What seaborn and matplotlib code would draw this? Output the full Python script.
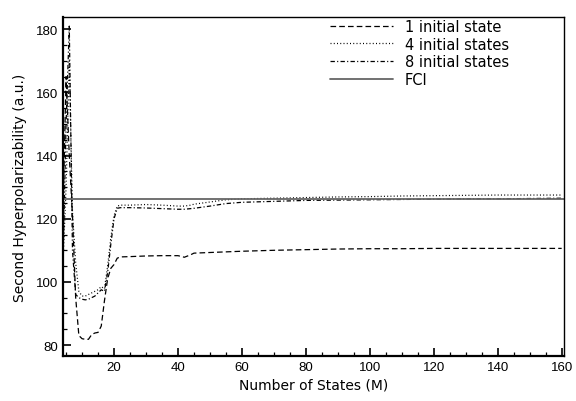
import matplotlib
matplotlib.use("Agg")
import matplotlib.pyplot as plt
import seaborn as sns
import pandas as pd
from matplotlib.ticker import MultipleLocator

# Number of states M and the second hyperpolarizability for each starting guess
m_values = [4, 5, 6, 7, 8, 9, 10, 11, 12, 13, 14, 15, 16, 17, 18, 19, 20, 21, 22,
            25, 30, 35, 40, 42, 44, 45, 50, 55, 60, 70, 80, 90, 100, 110, 120,
            130, 140, 150, 160]

gamma_1_state = [120, 165, 140, 121, 95, 83, 82, 81.8, 81.8, 83.3, 83.8, 84, 86,
                 94, 101, 104.3, 105.5, 107.5, 107.9,
                 108.0, 108.2, 108.3, 108.3, 107.8, 108.6, 109.1, 109.3, 109.5,
                 109.7, 110.0, 110.2, 110.4, 110.5, 110.5, 110.6,
                 110.6, 110.6, 110.6, 110.6]

gamma_4_states = [105, 130, 170, 122, 106, 97, 95.5, 95.5, 96, 96.5, 97, 97.5,
                  98.5, 97.8, 105, 114, 121, 124, 124.3,
                  124.3, 124.5, 124.3, 124.0, 124.0, 124.3, 124.6, 125.3, 126.0,
                  126.3, 126.5, 126.7, 126.9, 127.0, 127.2, 127.3,
                  127.4, 127.5, 127.5, 127.5]

gamma_8_states = [104, 150, 181, 110, 96, 95, 94.5, 94.3, 94.5, 95, 95.5, 96.5,
                  97.5, 97, 103, 112, 120, 123.3, 123.5,
                  123.5, 123.4, 123.2, 123.0, 123.0, 123.2, 123.3, 124.0, 124.8,
                  125.2, 125.5, 125.8, 125.9, 126.0, 126.1, 126.2,
                  126.3, 126.3, 126.4, 126.5]

gamma_fci = 126.4

series_labels = ["1 initial state", "4 initial states", "8 initial states", "FCI"]
x_ticks = [20, 40, 60, 80, 100, 120, 140, 160]
y_ticks = [80, 100, 120, 140, 160, 180]

sns.set_style("ticks")
plt.rcParams["font.family"] = ["DejaVu Sans"]
plt.rcParams["text.color"] = "black"
plt.rcParams["axes.labelcolor"] = "black"
plt.rcParams["xtick.color"] = "black"
plt.rcParams["ytick.color"] = "black"

fig = plt.figure(figsize=(5.76, 4.02), dpi=100)
ax = fig.add_axes([0.11, 0.111, 0.869, 0.8435])

df = pd.DataFrame({
    "M": m_values,
    "g1": gamma_1_state,
    "g4": gamma_4_states,
    "g8": gamma_8_states,
})

sns.lineplot(data=df, x="M", y="g1", ax=ax, color="black", linewidth=0.9,
             label=series_labels[0])
sns.lineplot(data=df, x="M", y="g4", ax=ax, color="black", linewidth=0.9,
             label=series_labels[1])
sns.lineplot(data=df, x="M", y="g8", ax=ax, color="black", linewidth=0.9,
             label=series_labels[2])
lines = ax.get_lines()
lines[0].set_dashes([4.5, 2.5])
lines[1].set_dashes([0.8, 1.8])
lines[2].set_dashes([3.5, 1.8, 0.9, 1.8])
ax.axhline(gamma_fci, color="#666666", linewidth=1.3, label=series_labels[3])

ax.set_xlim(4.15, 160.7)
ax.set_ylim(76.4, 183.8)
ax.set_xticks(x_ticks)
ax.set_yticks(y_ticks)
ax.xaxis.set_minor_locator(MultipleLocator(5))
ax.yaxis.set_minor_locator(MultipleLocator(5))
ax.tick_params(which="both", direction="in", top=False, right=False,
               labelsize=9.5, colors="black")
ax.tick_params(which="major", length=5.5, width=1.2)
ax.tick_params(which="minor", length=3, width=0.9)
for lab in ax.get_xticklabels() + ax.get_yticklabels():
    lab.set_family("Liberation Sans")

for side in ["left", "bottom"]:
    ax.spines[side].set_linewidth(1.6)
for side in ["top", "right"]:
    ax.spines[side].set_linewidth(1.0)
for sp in ax.spines.values():
    sp.set_color("black")

ax.set_xlabel("Number of States (M)", fontsize=10, labelpad=3)
ax.set_ylabel("Second Hyperpolarizability (a.u.)", fontsize=10, labelpad=7)

leg = ax.legend(loc="upper left", frameon=False, fontsize=10.5,
                handlelength=4.3, handletextpad=0.8, labelspacing=0.2,
                borderaxespad=0.0, borderpad=0.0,
                bbox_to_anchor=(0.533, 0.996))
for t in leg.get_texts():
    t.set_color("black")

fig.savefig("out.png", dpi=100)
